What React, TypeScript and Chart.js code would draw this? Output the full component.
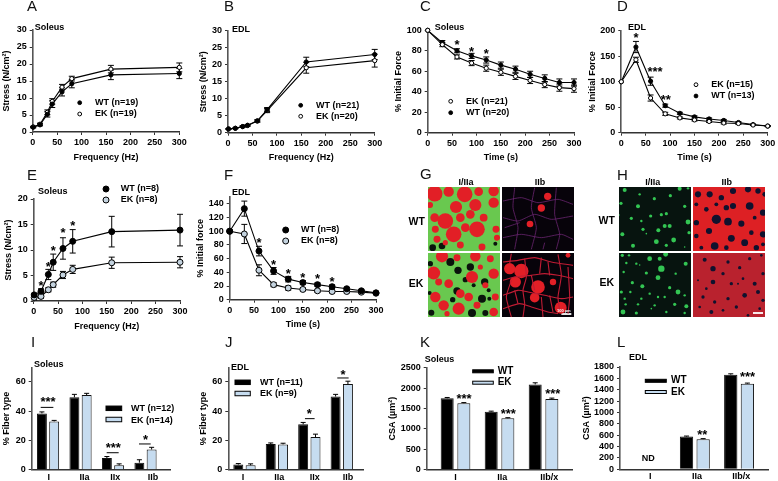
import React, { useEffect, useRef } from "react";
import { Chart, registerables } from "chart.js";

Chart.register(...registerables);

const FONT = "'Liberation Sans', Arial, sans-serif";

// ---------- data ----------
const freq = [1, 15, 30, 40, 60, 80, 160, 300];
const time = [0, 30, 60, 90, 120, 150, 180, 210, 240, 270, 300];

const aWT = [1.4, 2.1, 5.2, 8.2, 11.8, 14.2, 16.8, 17.2];
const aWTe = [0.2, 0.3, 0.8, 1, 1.2, 1.2, 1.4, 1.5];
const aEK = [1.5, 2.3, 5.8, 9, 13.2, 15.7, 18.5, 19];
const aEKe = [0.2, 0.3, 0.7, 0.8, 0.8, 0.7, 1.1, 1.3];

const bWT = [1.1, 1.3, 1.8, 2.2, 3.5, 6.8, 20.8, 23];
const bWTe = [0.1, 0.1, 0.2, 0.2, 0.3, 0.6, 1.4, 1.5];
const bEK = [1.1, 1.3, 1.8, 2.1, 3.4, 6.5, 19.1, 21.2];
const bEKe = [0.1, 0.1, 0.2, 0.2, 0.3, 0.6, 1.6, 1.9];

const cEK = [100, 86, 74, 68, 63, 59, 55, 51, 47, 44, 43];
const cEKe = [0, 2, 2, 2.5, 3, 3, 3, 3, 3, 3.5, 3.5];
const cWT = [100, 88, 80, 75, 71, 66, 62, 57, 53, 49, 49];
const cWTe = [0, 2, 2, 2.5, 3, 3, 3, 3, 3.5, 3.5, 3.5];
const cStars: [number, number, string][] = [[60, 88, "*"], [90, 81, "*"], [120, 78.5, "*"]];

const dEK = [100, 143, 68, 37, 29, 25, 22, 19, 18, 15, 13];
const dEKe = [0, 5, 6, 3, 2, 2, 2, 2, 2, 1, 1];
const dWT = [100, 168, 101, 53, 38, 31, 27, 24, 20, 16, 13];
const dWTe = [0, 11, 8, 3, 2, 2, 2, 2, 2, 1, 1];
const dStars: [number, number, string][] = [[30, 189, "*"], [69, 124, "***"], [91, 69, "**"]];

const eWT = [1.2, 1.9, 5.2, 7.6, 10.3, 11.7, 13.6, 13.9];
const eWTe = [0.3, 0.5, 1, 1.6, 2.1, 2.3, 3, 3.1];
const eEK = [0.7, 0.9, 2.2, 3.2, 5.1, 6.2, 7.5, 7.6];
const eEKe = [0.5, 0.4, 0.4, 0.5, 0.7, 0.8, 1.1, 1.1];
const eStars: [number, number, string][] = [[15, 3.3, "*"], [30, 7, "*"], [40, 10.3, "*"], [60, 13.7, "*"], [80, 15.1, "*"]];

const fWT = [100, 133, 71, 42, 30, 25, 22, 19, 16, 13, 10];
const fWTe = [0, 11, 7, 5, 4, 3, 2.5, 2.5, 2, 2, 1.5];
const fEK = [100, 96, 43, 22, 17, 15, 13, 12, 12, 11, 9.5];
const fEKe = [0, 14, 8, 3, 3, 2, 2, 2, 2, 2, 1.5];
const fStars: [number, number, string][] = [[60, 86, "*"], [90, 53, "*"], [120, 41, "*"], [150, 35, "*"], [180, 33, "*"], [210, 29, "*"]];

const iLabels = ["I", "IIa", "IIx", "IIb"];
const iWT = [38.5, 49.5, 8, 4.8];
const iWTe = [1, 2, 1, 2];
const iEK = [33, 51, 3, 13.8];
const iEKe = [0.7, 1.2, 1, 1.5];
const iStars: [number, number, string][] = [[1, 47.6, "***"], [3.01, 16.2, "***"], [4, 21.4, "*"]];
const iLines = [[0.774, 1.164, 42.6], [2.805, 3.174, 11.6], [3.8, 4.16, 17.6]];

const jLabels = ["I", "IIa", "IIx", "IIb"];
const jWT = [3.5, 17.5, 31, 50];
const jWTe = [0.7, 0.8, 1.3, 1.5];
const jEK = [3, 17.3, 22.3, 58.5];
const jEKe = [1, 0.8, 2, 2];
const jStars: [number, number, string][] = [[3, 39.7, "*"], [4.04, 65.9, "*"]];
const jLines = [[2.865, 3.163, 34.9], [3.862, 4.212, 62.7]];

const kLabels = ["I", "IIa", "IIb/x"];
const kWT = [1750, 1420, 2090];
const kWTe = [20, 15, 40];
const kEK = [1630, 1260, 1730];
const kEKe = [15, 15, 25];
const kStars: [number, number, string][] = [[1.193, 1789, "***"], [2.2, 1421, "***"], [3.21, 1895, "***"]];

const lLabels = ["I", "IIa", "IIb/x"];
const lWT = [575, 1665];
const lWTe = [10, 15];
const lEK = [530, 1505];
const lEKe = [10, 12];
const lStars: [number, number, string][] = [[2.17, 633, "**"], [3.19, 1658, "***"]];

// micrograph blobs: [x, y, radius]
const gWtRed = [[28,28,18],[70,22,12],[118,30,18],[160,22,10],[205,20,12],[14,62,7],[92,68,14],[150,62,14],[205,55,12],[28,100,10],[60,110,18],[105,100,10],[135,90,10],[175,100,9],[155,135,18],[85,150,18],[30,135,8],[120,130,10],[212,135,8],[35,165,8],[60,175,6],[105,182,8],[170,188,8],[215,160,7]];
const gWtBlack = [[22,190,10],[50,185,10],[210,178,6]];
const gEkRed = [[25,268,15],[50,218,14],[70,300,10],[40,295,8],[95,222,8],[150,218,12],[195,225,8],[140,280,14],[205,270,12],[165,250,6],[105,330,10],[30,340,12],[55,365,12],[180,305,7],[130,340,10],[210,340,8],[100,375,14],[205,385,10],[65,390,6],[155,365,8]];
const gEkBlack = [[15,240,8],[75,235,12],[98,260,11],[135,250,11],[120,288,8],[178,295,11],[95,322,11],[145,305,6],[13,328,6],[82,348,8],[170,345,12],[190,320,6],[140,388,12],[180,388,9],[18,387,9],[192,345,6]];
const gWt2Red = [[369,36,11],[350,71,11],[316,119,10]];
const gWt2Net = [[[235,100],[280,110],[330,90],[380,105],[445,95]],[[240,130],[285,115]],[[235,50],[290,40],[340,55],[400,45],[445,60]],[[235,160],[290,150],[350,160],[410,150],[445,165]],[[270,10],[265,70],[280,130],[270,195]],[[330,10],[320,70],[335,130],[320,195]],[[395,10],[390,90],[405,150],[395,195]],[[360,175],[355,195]]];
const gEk2Red = [[255,255,14],[290,262,18],[272,295,14],[340,310,17],[330,342,12],[385,295,8],[408,372,15],[430,215,6]];
const gEk2Net = [[[235,235],[280,230],[330,222],[380,235],[445,245]],[[235,290],[270,280],[320,275],[360,270],[400,275],[445,285]],[[235,335],[280,320],[310,325],[360,335],[410,345],[445,340]],[[235,375],[285,360],[320,370],[370,385],[400,390]],[[260,210],[255,240]],[[300,225],[305,280],[295,320],[300,360],[295,400]],[[350,222],[345,270]],[[400,212],[410,275],[400,340],[405,380]],[[260,290],[245,340],[260,400]],[[350,340],[355,400]],[[430,250],[435,340],[430,390]],[[320,275],[330,320]],[[270,320],[280,360]],[[370,235],[375,275]],[[375,335],[385,385]]];
const hWtGreen = [[25,17,5],[70,30,3],[114,43,4],[162,34,4],[190,13,5],[215,12,3],[14,57,4],[65,66,5],[205,66,4],[8,92,2],[45,102,4],[103,95,4],[135,91,4],[150,88,4],[75,110,3],[215,113,6],[145,125,5],[160,125,5],[18,150,5],[80,135,4],[126,138,5],[218,145,4],[172,167,6],[120,172,6],[150,183,4],[50,184,5],[205,188,2],[90,148,2]];
const hEkGreen = [[18,215,4],[38,215,3],[60,240,3],[100,225,6],[130,225,5],[148,212,6],[135,255,8],[208,240,5],[30,238,3],[70,244,2],[22,265,3],[90,268,4],[125,282,6],[178,270,3],[48,297,4],[78,308,5],[15,325,4],[42,325,3],[100,330,3],[160,312,4],[185,325,6],[205,335,3],[25,345,3],[75,345,3],[125,340,3],[145,340,3],[28,362,3],[65,362,3],[115,365,3],[175,362,4],[210,368,5],[20,385,6],[60,388,4],[105,375,2],[150,385,3],[205,388,3]];
const hWtDark = [[245,30,8],[280,30,8],[315,40,7],[350,20,8],[395,15,8],[425,20,7],[445,30,6],[240,60,5],[270,75,6],[300,60,5],[330,70,7],[350,65,8],[400,65,10],[440,85,8],[300,105,12],[335,112,10],[240,115,7],[375,118,8],[415,100,5],[278,140,8],[345,162,9],[405,145,6],[440,150,8],[240,155,6],[295,185,10],[330,190,6],[385,175,9],[420,190,7],[440,180,5],[255,190,5]];
const hEkDark = [[265,228,6],[290,255,8],[335,235,5],[370,252,5],[400,225,5],[435,215,4],[320,270,5],[290,295,7],[245,290,3],[270,315,4],[345,300,5],[380,285,4],[415,300,6],[440,270,5],[260,340,5],[295,355,5],[335,345,5],[385,335,7],[425,325,6],[440,350,5],[250,370,4],[285,385,6],[320,380,4],[360,370,5],[395,395,4],[430,375,4],[365,300,3]];

// ---------- styling ----------
const TICK = 9;
const TITLE = 9;
const AXIS = "#333";
const EK_LIGHT = "#c6dcf0";
const EK_GREY = "#c4d3df";

type Note = { x: number; y: number; text: string; size?: number };
type Key = { x: number; y: number; kind: "filled" | "open" | "grey" | "barW" | "barE"; x2?: number; h?: number; r?: number };

const annotate = {
  id: "annotate",
  beforeDatasetsDraw(chart: any) { drawErrors(chart, false); },
  afterDatasetsDraw(chart: any) { drawErrors(chart, true); },
  afterDraw(chart: any) {
    const o = chart.options.plugins.annotate;
    if (!o) return;
    const ctx = chart.ctx;
    const xs = chart.scales.x, ys = chart.scales.y;
    ctx.save();
    ctx.fillStyle = "#000";
    ctx.strokeStyle = "#000";
    (o.lines || []).forEach((l: number[]) => {
      ctx.lineWidth = 1;
      ctx.beginPath();
      ctx.moveTo(xs.getPixelForValue(l[0]), ys.getPixelForValue(l[2]));
      ctx.lineTo(xs.getPixelForValue(l[1]), ys.getPixelForValue(l[2]));
      ctx.stroke();
    });
    ctx.textAlign = "center";
    ctx.textBaseline = "middle";
    ctx.font = `bold 13px ${FONT}`;
    (o.stars || []).forEach((s: [number, number, string]) => {
      ctx.fillText(s[2], xs.getPixelForValue(s[0]), ys.getPixelForValue(s[1]) + 2.5);
    });
    ctx.textAlign = "left";
    const [bx, by] = o.origin;
    (o.notes || []).forEach((n: Note) => {
      ctx.font = `bold ${n.size || TITLE}px ${FONT}`;
      ctx.fillStyle = "#000";
      ctx.fillText(n.text, n.x - bx, n.y - by);
    });
    (o.keys || []).forEach((k: Key) => {
      if (k.kind === "barW" || k.kind === "barE") {
        const h = k.h || 4.5;
        ctx.fillStyle = k.kind === "barW" ? "#000" : EK_LIGHT;
        ctx.strokeStyle = "#000";
        ctx.lineWidth = 1;
        ctx.fillRect(k.x - bx, k.y - by - h / 2, (k.x2 as number) - k.x, h);
        ctx.strokeRect(k.x - bx, k.y - by - h / 2, (k.x2 as number) - k.x, h);
      } else {
        ctx.beginPath();
        ctx.arc(k.x - bx, k.y - by, k.r || 1.9, 0, Math.PI * 2);
        ctx.fillStyle = k.kind === "filled" ? "#000" : k.kind === "grey" ? EK_GREY : "#fff";
        ctx.fill();
        ctx.strokeStyle = "#000";
        ctx.lineWidth = 1;
        ctx.stroke();
      }
    });
    ctx.restore();
  },
};

function drawErrors(chart: any, forBars: boolean) {
  const ys = chart.scales.y;
  if (!ys) return;
  const ctx = chart.ctx;
  chart.data.datasets.forEach((ds: any, di: number) => {
    if (!ds.err || (ds.type === "bar" || chart.config.type === "bar") !== forBars) return;
    const meta = chart.getDatasetMeta(di);
    ctx.save();
    ctx.strokeStyle = "#000";
    ctx.lineWidth = 1;
    meta.data.forEach((el: any, i: number) => {
      const e = ds.err[i];
      if (!e) return;
      const v = ds.data[i].y;
      const top = ys.getPixelForValue(v + e);
      const bot = forBars ? ys.getPixelForValue(v) : ys.getPixelForValue(v - e);
      const cap = ds.cap || 3;
      ctx.beginPath();
      ctx.moveTo(el.x, bot);
      ctx.lineTo(el.x, top);
      ctx.moveTo(el.x - cap, top);
      ctx.lineTo(el.x + cap, top);
      if (!forBars) {
        ctx.moveTo(el.x - cap, bot);
        ctx.lineTo(el.x + cap, bot);
      }
      ctx.stroke();
    });
    ctx.restore();
  });
}

const imageBg = {
  id: "imageBg",
  beforeDraw(chart: any) {
    const c = chart.options.plugins.imageBg?.color;
    if (!c) return;
    chart.ctx.save();
    chart.ctx.fillStyle = c;
    chart.ctx.fillRect(0, 0, chart.width, chart.height);
    chart.ctx.restore();
  },
};

function xy(xs: number[], ys: number[]) {
  return xs.map((x, i) => ({ x, y: ys[i] }));
}

type Panel = {
  plot: [number, number, number, number];
  yTitle: string;
  yTitleX: number;
  yMax: number;
  yStep: number;
  xTitle?: string;
  xTitleY?: number;
  series?: { x: number[]; y: number[]; err: number[]; style: "filled" | "open" | "grey" }[];
  bars?: { x: number[]; y: number[]; err: number[]; light: boolean }[];
  barPct?: [number, number];
  xRange?: [number, number];
  xTicks?: number[];
  xLabels?: string[];
  r?: number;
  stars?: [number, number, string][];
  lines?: number[][];
  notes?: Note[];
  keys?: Key[];
};

const panels: Panel[] = [
  {
    plot: [32.7, 30, 179.3, 132], yTitle: "Stress (N/cm²)", yTitleX: 7.3, yMax: 30, yStep: 5, xTitle: "Frequency (Hz)", xTitleY: 158,
    series: [{ x: freq, y: aWT, err: aWTe, style: "filled" }, { x: freq, y: aEK, err: aEKe, style: "open" }],
    notes: [{ x: 34.7, y: 27.7, text: "Soleus" }, { x: 95, y: 102.7, text: "WT (n=19)" }, { x: 95, y: 114, text: "EK (n=19)" }],
    keys: [{ x: 79.7, y: 102.7, kind: "filled" }, { x: 79.7, y: 114, kind: "open" }],
  },
  {
    plot: [228, 30.7, 374.7, 132.7], yTitle: "Stress (N/cm²)", yTitleX: 204, yMax: 30, yStep: 5, xTitle: "Frequency (Hz)", xTitleY: 158,
    series: [{ x: freq, y: bWT, err: bWTe, style: "filled" }, { x: freq, y: bEK, err: bEKe, style: "open" }],
    notes: [{ x: 232, y: 29.3, text: "EDL" }, { x: 316, y: 105.3, text: "WT (n=21)" }, { x: 316, y: 116.3, text: "EK (n=20)" }],
    keys: [{ x: 300.7, y: 105.3, kind: "filled" }, { x: 300.7, y: 116.3, kind: "open" }],
  },
  {
    plot: [427.7, 30.3, 574, 132.7], yTitle: "% Initial Force", yTitleX: 398.7, yMax: 100, yStep: 20, xTitle: "Time (s)", xTitleY: 158,
    series: [{ x: time, y: cEK, err: cEKe, style: "open" }, { x: time, y: cWT, err: cWTe, style: "filled" }],
    stars: cStars,
    notes: [{ x: 434.7, y: 28, text: "Soleus" }, { x: 466, y: 101.3, text: "EK (n=21)" }, { x: 466, y: 112.7, text: "WT (n=20)" }],
    keys: [{ x: 450.7, y: 101.3, kind: "open" }, { x: 450.7, y: 112.7, kind: "filled" }],
  },
  {
    plot: [621.3, 30.7, 767.7, 132.7], yTitle: "% Initial Force", yTitleX: 592.7, yMax: 200, yStep: 50, xTitle: "Time (s)", xTitleY: 158,
    series: [{ x: time, y: dEK, err: dEKe, style: "open" }, { x: time, y: dWT, err: dWTe, style: "filled" }],
    stars: dStars,
    notes: [{ x: 628, y: 28, text: "EDL" }, { x: 711.3, y: 84.7, text: "EK (n=15)" }, { x: 711.3, y: 96, text: "WT (n=13)" }],
    keys: [{ x: 696, y: 84.7, kind: "open" }, { x: 696, y: 96, kind: "filled" }],
  },
  {
    plot: [33.7, 199, 180, 301], yTitle: "Stress (N/cm²)", yTitleX: 9, yMax: 20, yStep: 5, xTitle: "Frequency (Hz)", xTitleY: 327, r: 3,
    series: [{ x: freq, y: eWT, err: eWTe, style: "filled" }, { x: freq, y: eEK, err: eEKe, style: "grey" }],
    stars: eStars,
    notes: [{ x: 38, y: 192, text: "Soleus" }, { x: 120.7, y: 189, text: "WT (n=8)" }, { x: 120.7, y: 200, text: "EK (n=8)" }],
    keys: [{ x: 106, y: 189, kind: "filled", r: 3 }, { x: 106, y: 200, kind: "grey", r: 3 }],
  },
  {
    plot: [229.7, 197, 376, 299.7], yTitle: "% Initial force", yTitleX: 200.7, yMax: 150, yStep: 20, xTitle: "Time (s)", xTitleY: 325, r: 3,
    series: [{ x: time, y: fWT, err: fWTe, style: "filled" }, { x: time, y: fEK, err: fEKe, style: "grey" }],
    stars: fStars,
    notes: [{ x: 232, y: 193, text: "EDL" }, { x: 301, y: 230, text: "WT (n=8)" }, { x: 301, y: 241, text: "EK (n=8)" }],
    keys: [{ x: 285.7, y: 230, kind: "filled", r: 3 }, { x: 285.7, y: 241, kind: "grey", r: 3 }],
  },
  {
    plot: [31.7, 367.3, 170, 469.7], yTitle: "% Fiber type", yTitleX: 7.3, yMax: 70, yStep: 20,
    bars: [{ x: [1, 2, 3, 4], y: iWT, err: iWTe, light: false }, { x: [1, 2, 3, 4], y: iEK, err: iEKe, light: true }],
    barPct: [0.794, 0.81], xRange: [0.497, 4.754], xTicks: [1.02, 2.12, 3.07, 4.23], xLabels: iLabels,
    stars: iStars, lines: iLines,
    notes: [{ x: 34, y: 364.7, text: "Soleus" }, { x: 131, y: 409, text: "WT (n=12)" }, { x: 131, y: 420.7, text: "EK (n=14)" }],
    keys: [{ x: 106, x2: 121.7, y: 408.3, kind: "barW" }, { x: 106, x2: 121.7, y: 419.5, kind: "barE" }],
  },
  {
    plot: [228.3, 367.3, 363.3, 469.7], yTitle: "% Fiber type", yTitleX: 204, yMax: 70, yStep: 20,
    bars: [{ x: [1, 2, 3, 4], y: jWT, err: jWTe, light: false }, { x: [1, 2, 3, 4], y: jEK, err: jEKe, light: true }],
    barPct: [0.76, 0.81], xRange: [0.5015, 4.664], xTicks: [0.954, 2.07, 3.17, 4.19], xLabels: jLabels,
    stars: jStars, lines: jLines,
    notes: [{ x: 231, y: 367.7, text: "EDL" }, { x: 260, y: 382.7, text: "WT (n=11)" }, { x: 260, y: 393.7, text: "EK (n=9)" }],
    keys: [{ x: 235, x2: 250.3, y: 382.3, kind: "barW" }, { x: 235, x2: 250.3, y: 393.5, kind: "barE" }],
  },
  {
    plot: [426.7, 367.7, 572.7, 469.7], yTitle: "CSA (µm²)", yTitleX: 393.3, yMax: 2500, yStep: 500,
    bars: [{ x: [1, 2, 3], y: kWT, err: kWTe, light: false }, { x: [1, 2, 3], y: kEK, err: kEKe, light: true }],
    barPct: [0.757, 0.78], xRange: [0.345, 3.663], xTicks: [1, 2.064, 3.13], xLabels: kLabels,
    stars: kStars,
    notes: [{ x: 424.7, y: 360, text: "Soleus" }, { x: 497.7, y: 371.7, text: "WT", size: 10 }, { x: 497.7, y: 382.3, text: "EK", size: 10 }],
    keys: [{ x: 472.7, x2: 493.3, y: 371.3, h: 3, kind: "barW" }, { x: 472.7, x2: 493.3, y: 382.7, h: 3, kind: "barE" }],
  },
  {
    plot: [620, 367, 768, 469.3], yTitle: "CSA (µm²)", yTitleX: 586.7, yMax: 1800, yStep: 200,
    bars: [{ x: [2, 3], y: lWT, err: lWTe, light: false }, { x: [2, 3], y: lEK, err: lEKe, light: true }],
    barPct: [0.752, 0.8], xRange: [0.308, 3.654], xTicks: [0.99, 2.05, 3.05], xLabels: lLabels,
    stars: lStars,
    notes: [{ x: 629, y: 358, text: "EDL" }, { x: 671, y: 380.7, text: "WT", size: 10 }, { x: 671, y: 392, text: "EK", size: 10 }, { x: 641.7, y: 459, text: "ND" }],
    keys: [{ x: 645.3, x2: 666.3, y: 380.8, h: 3, kind: "barW" }, { x: 645.3, x2: 666.3, y: 392, h: 3, kind: "barE" }],
  },
];

function boxOf(p: Panel) {
  const [, t, r, b] = p.plot;
  const left = Math.round(p.yTitleX - 8);
  const top = Math.floor(t) - 24;
  const right = Math.ceil(r) + 12;
  const bottom = p.xTitleY ? Math.round(p.xTitleY + 8) : Math.min(481, Math.ceil(b) + 12);
  return { left, top, right, bottom, w: right - left, h: bottom - top };
}

function buildChart(canvas: HTMLCanvasElement, p: Panel) {
  const box = boxOf(p);
  const [l, t, r, b] = p.plot;
  const isBar = !!p.bars;
  const datasets: any[] = isBar
    ? p.bars!.map((s) => ({
        data: xy(s.x, s.y),
        err: s.err,
        cap: 2.5,
        backgroundColor: s.light ? EK_LIGHT : "#000",
        borderColor: "#111",
        borderWidth: 1,
        categoryPercentage: p.barPct![0],
        barPercentage: p.barPct![1],
      }))
    : p.series!.map((s) => ({
        data: xy(s.x, s.y),
        err: s.err,
        borderColor: "#000",
        borderWidth: 1.1,
        pointBackgroundColor: s.style === "filled" ? "#000" : s.style === "grey" ? EK_GREY : "#fff",
        pointBorderColor: "#000",
        pointBorderWidth: 1,
        pointRadius: p.r || 2.1,
        tension: 0,
        clip: false,
      }));
  const font = { family: FONT, size: TICK, weight: "bold" as const };
  const chart = new Chart(canvas, {
    type: isBar ? "bar" : "line",
    data: { datasets },
    plugins: [annotate],
    options: {
      responsive: false,
      animation: false,
      devicePixelRatio: 1,
      layout: { autoPadding: false, padding: { left: 0, top: t - box.top, right: box.right - r, bottom: 0 } },
      plugins: {
        legend: { display: false },
        tooltip: { enabled: false },
        annotate: { origin: [box.left, box.top], stars: p.stars, lines: p.lines, notes: p.notes, keys: p.keys },
      } as any,
      scales: {
        x: {
          type: "linear",
          offset: false,
          bounds: "data",
          min: isBar ? p.xRange![0] : 0,
          max: isBar ? p.xRange![1] : 300,
          afterBuildTicks: isBar
            ? (s: any) => { s.ticks = p.xTicks!.map((value) => ({ value })); }
            : undefined,
          afterFit: (s: any) => { s.height = box.bottom - b; },
          border: { display: true, color: AXIS, width: 1.4 },
          grid: { offset: false, drawOnChartArea: false, drawTicks: !isBar, tickLength: isBar ? 0 : 3, color: AXIS, lineWidth: 1 },
          ticks: {
            color: "#000",
            font,
            padding: 2,
            maxRotation: 0,
            autoSkip: false,
            includeBounds: false,
            stepSize: 50,
            callback: (v: any, i: number) => (isBar ? p.xLabels![i] : String(v)),
          },
          title: p.xTitle
            ? { display: true, text: p.xTitle, color: "#000", font: { family: FONT, size: TITLE, weight: "bold" }, padding: { top: 0, bottom: 2.6 } }
            : { display: false },
        },
        y: {
          type: "linear",
          min: 0,
          max: p.yMax,
          afterFit: (s: any) => { s.width = l - box.left; },
          border: { display: true, color: "#555", width: 1.6 },
          grid: { drawOnChartArea: false, tickLength: 3, color: AXIS, lineWidth: 1 },
          ticks: { color: "#000", font, padding: 3, stepSize: p.yStep, includeBounds: false, autoSkip: false, callback: (v: any) => String(v) },
          title: { display: true, text: p.yTitle, color: "#000", font: { family: FONT, size: TITLE, weight: "bold" }, padding: { top: 2.6, bottom: 0 } },
        },
      },
    } as any,
  });
  return chart;
}

type Micro = {
  rect: [number, number, number, number];
  xFrom: number; yFrom: number;
  bg: string;
  layers: { blobs: number[][]; color: string; grow?: number }[];
  net?: number[][][];
  netColor?: string;
  netWidth?: number;
  scale?: number[];
};

const COL = 216, ROW = 192;
const micros: Micro[] = [
  { rect: [427.7, 186.7, 72, 64], xFrom: 8, yFrom: 8, bg: "#69c84f", layers: [{ blobs: gWtRed, color: "#e21f26", grow: 1.3 }, { blobs: gWtBlack, color: "#0a140c" }] },
  { rect: [502, 186.7, 72, 64], xFrom: 232, yFrom: 8, bg: "#07030a", layers: [{ blobs: gWt2Red, color: "#e21f26" }], net: gWt2Net, netColor: "#6a2570", netWidth: 0.8 },
  { rect: [427.7, 253.3, 72, 64], xFrom: 8, yFrom: 208, bg: "#69c84f", layers: [{ blobs: gEkRed, color: "#e21f26", grow: 1.3 }, { blobs: gEkBlack, color: "#0a140c" }] },
  { rect: [502, 253.3, 72, 64], xFrom: 232, yFrom: 208, bg: "#07030a", layers: [{ blobs: gEk2Red, color: "#e21f26", grow: 1.2 }], net: gEk2Net, netColor: "#c01c34", netWidth: 1.1, scale: [410, 440, 391] },
  { rect: [618.7, 186.7, 71.5, 64], xFrom: 8, yFrom: 8, bg: "#07140f", layers: [{ blobs: hWtGreen, color: "#33c553", grow: 1.2 }] },
  { rect: [692.7, 186.7, 71.5, 64], xFrom: 230, yFrom: 8, bg: "#dd2024", layers: [{ blobs: hWtDark, color: "#10122e", grow: 1.15 }] },
  { rect: [618.7, 253, 71.5, 64], xFrom: 8, yFrom: 208, bg: "#07140f", layers: [{ blobs: hEkGreen, color: "#33c553", grow: 1.2 }] },
  { rect: [692.7, 253, 71.5, 64], xFrom: 230, yFrom: 208, bg: "#b9222e", layers: [{ blobs: hEkDark, color: "#10122e" }], scale: [410, 440, 388] },
];

function buildMicro(canvas: HTMLCanvasElement, m: Micro) {
  const datasets: any[] = [];
  (m.net || []).forEach((line) =>
    datasets.push({
      type: "line",
      data: line.map((q) => ({ x: q[0], y: q[1] })),
      borderColor: m.netColor,
      borderWidth: m.netWidth,
      pointRadius: 0,
      tension: 0.2,
    })
  );
  m.layers.forEach((layer) =>
    datasets.push({
      type: "bubble",
      data: layer.blobs.map((q) => ({ x: q[0], y: q[1], r: (q[2] * (layer.grow || 1)) / 3 })),
      backgroundColor: layer.color,
      borderWidth: 0,
      hoverRadius: 0,
    })
  );
  if (m.scale) {
    datasets.push({
      type: "line",
      data: [{ x: m.scale[0], y: m.scale[2] }, { x: m.scale[1], y: m.scale[2] }],
      borderColor: "#fff",
      borderWidth: 1.8,
      pointRadius: 0,
    });
  }
  return new Chart(canvas, {
    type: "bubble",
    data: { datasets },
    plugins: [imageBg],
    options: {
      responsive: false,
      animation: false,
      devicePixelRatio: 1,
      layout: { autoPadding: false, padding: 0 },
      plugins: { legend: { display: false }, tooltip: { enabled: false }, imageBg: { color: m.bg } },
      scales: {
        x: { type: "linear", display: false, min: m.xFrom, max: m.xFrom + COL },
        y: { type: "linear", display: false, min: m.yFrom, max: m.yFrom + ROW, reverse: true },
      },
    } as any,
  });
}

const letters: [string, number, number][] = [
  ["A", 27, 6], ["B", 224, 6], ["C", 420, 6], ["D", 617, 6],
  ["E", 27, 175], ["F", 224, 175], ["G", 420, 174], ["H", 617, 175],
  ["I", 31, 342], ["J", 225, 342], ["K", 420, 342], ["L", 617, 342],
];
const imageLabels: [string, number, number, number][] = [
  ["I/IIa", 466, 181.5, 9], ["IIb", 540, 181.5, 9], ["I/IIa", 652.7, 181.5, 9], ["IIb", 726.7, 181.5, 9],
  ["WT", 416.7, 221, 10.5], ["EK", 416, 282.7, 10.5], ["WT", 606.7, 220, 10.5], ["EK", 606.7, 282, 10.5],
];

export default function App() {
  const refs = useRef<(HTMLCanvasElement | null)[]>([]);
  const microRefs = useRef<(HTMLCanvasElement | null)[]>([]);
  useEffect(() => {
    const charts = [
      ...panels.map((p, i) => buildChart(refs.current[i] as HTMLCanvasElement, p)),
      ...micros.map((m, i) => buildMicro(microRefs.current[i] as HTMLCanvasElement, m)),
    ];
    return () => charts.forEach((c) => c.destroy());
  }, []);
  return (
    <div style={{ position: "absolute", left: 0, top: 0, width: 778, height: 481, overflow: "hidden", background: "#fff", fontFamily: FONT, filter: "blur(0.3px)" }}>
      {micros.map((m, i) => (
        <canvas
          key={"m" + i}
          ref={(el) => { microRefs.current[i] = el; }}
          width={Math.round(m.rect[2])}
          height={Math.round(m.rect[3])}
          style={{ position: "absolute", left: Math.round(m.rect[0]), top: Math.round(m.rect[1]) }}
        />
      ))}
      {panels.map((p, i) => {
        const b = boxOf(p);
        return (
          <canvas
            key={"p" + i}
            ref={(el) => { refs.current[i] = el; }}
            width={b.w}
            height={b.h}
            style={{ position: "absolute", left: b.left, top: b.top }}
          />
        );
      })}
      {letters.map(([t, x, y]) => (
        <div key={t} style={{ position: "absolute", left: x, top: y - 8, fontSize: 15, lineHeight: "16px", color: "#111" }}>{t}</div>
      ))}
      {imageLabels.map(([t, x, y, s], i) => (
        <div key={i} style={{ position: "absolute", left: x - 20, width: 40, textAlign: "center", top: y - 7, lineHeight: "14px", fontSize: s, fontWeight: "bold", color: "#000" }}>{t}</div>
      ))}
      <div style={{ position: "absolute", left: 557, top: 308, fontSize: 4, fontWeight: "bold", color: "#fff", lineHeight: "5px", whiteSpace: "nowrap" }}>100 µm</div>
    </div>
  );
}
